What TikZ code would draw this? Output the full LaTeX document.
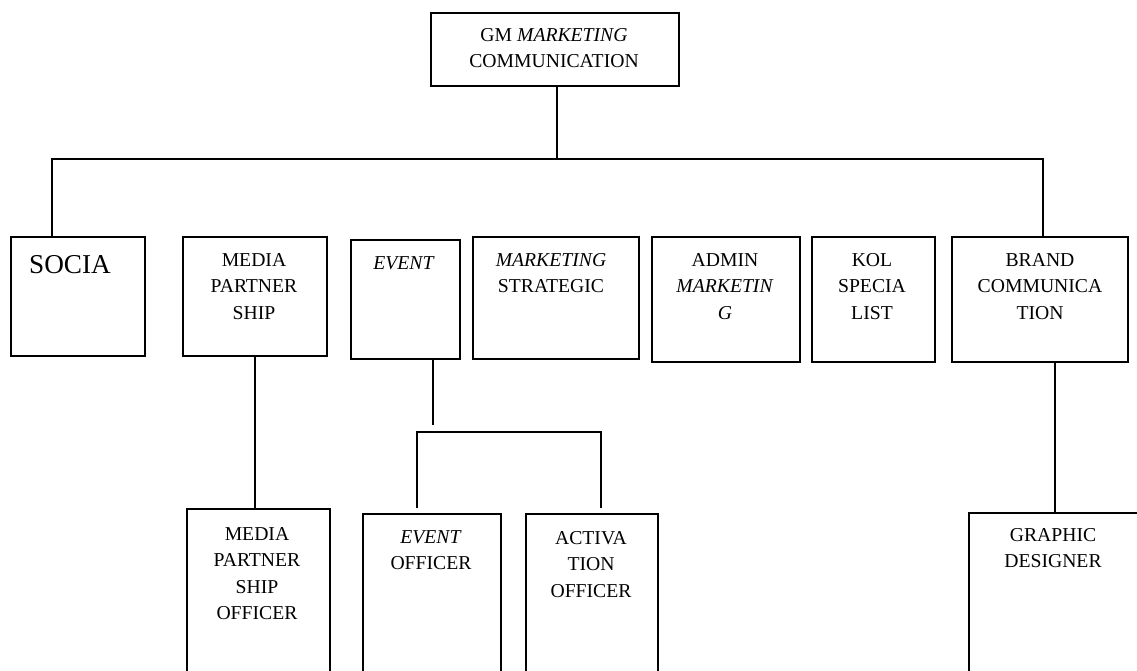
\documentclass[tikz,border=0pt]{standalone}
\usepackage{fontspec}
\setmainfont{Liberation Serif}
\begin{document}
\begin{tikzpicture}[x=0.02cm, y=-0.02cm,
  box/.style = {draw, line width=1.1pt, anchor=north west, inner sep=0pt},
  txt/.style = {align=center, anchor=north, inner sep=0pt, font=\fontsize{11.2}{15}\selectfont},
  conn/.style = {line width=1.2pt},
  thinconn/.style = {line width=0.6pt}]
\useasboundingbox (0,0) rectangle (1137,671);
\clip (0,0) rectangle (1137,671);
% top
\node[box, minimum width=4.96cm, minimum height=1.46cm] (gm) at (430,12) {};
\node[txt] (gmT) at (554,28) {GM \textit{MARKETING}\\COMMUNICATION};
% second row
\node[box, minimum width=2.68cm, minimum height=2.38cm] (soc) at (10,236) {};
\node[txt, font=\fontsize{15.5}{18}\selectfont] (socT) at (70,255) {SOCIA};
\node[box, minimum width=2.88cm, minimum height=2.38cm] (mps) at (182,236) {};
\node[txt] (mpsT) at (254,253) {MEDIA\\PARTNER\\SHIP};
\node[box, minimum width=2.18cm, minimum height=2.38cm] (evt) at (350,239) {};
\node[txt] (evtT) at (404,256) {\textit{EVENT}};
\node[box, minimum width=3.32cm, minimum height=2.44cm] (mst) at (472,236) {};
\node[txt] (mstT) at (551,253) {\textit{MARKETING}\\STRATEGIC};
\node[box, minimum width=2.96cm, minimum height=2.5cm] (adm) at (651,236) {};
\node[txt] (admT) at (725,253) {ADMIN\\\textit{MARKETIN}\\\textit{G}};
\node[box, minimum width=2.46cm, minimum height=2.5cm] (kol) at (811,236) {};
\node[txt] (kolT) at (872,253) {KOL\\SPECIA\\LIST};
\node[box, minimum width=3.52cm, minimum height=2.5cm] (brd) at (951,236) {};
\node[txt] (brdT) at (1040,253) {BRAND\\COMMUNICA\\TION};
% third row
\node[box, minimum width=2.86cm, minimum height=4cm] (mpo) at (186,508) {};
\node[txt] (mpoT) at (257,527) {MEDIA\\PARTNER\\SHIP\\OFFICER};
\node[box, minimum width=2.76cm, minimum height=4cm] (evo) at (362,513) {};
\node[txt] (evoT) at (431,530) {\textit{EVENT}\\OFFICER};
\node[box, minimum width=2.64cm, minimum height=4cm] (act) at (525,513) {};
\node[txt] (actT) at (591,531) {ACTIVA\\TION\\OFFICER};
\node[box, minimum width=3.44cm, minimum height=4cm] (gd) at (968,512) {};
\node[txt] (gdT) at (1053,528) {GRAPHIC\\DESIGNER};
% connectors
\coordinate (busL) at (52,159);
\coordinate (busM) at (557,159);
\coordinate (busR) at (1043,159);
\coordinate (evtEnd) at (433,425);
\coordinate (brL) at (417,432);
\coordinate (brR) at (601,432);
\draw[conn] (gm.south -| busM) -- (busM);
\draw[conn] (soc.north -| busL) -- (busL) -- (busR) -- (busR |- brd.north);
\draw[conn] (mps.south) -- (mps.south |- mpo.north);
\draw[thinconn] (evt.south -| evtEnd) -- (evtEnd);
\draw[conn, shorten <=5*0.02cm, shorten >=5*0.02cm] (brL |- evo.north) -- (brL) -- (brR) -- (brR |- act.north);
\draw[conn] (gd.north |- brd.south) -- (gd.north);
\end{tikzpicture}
\end{document}
